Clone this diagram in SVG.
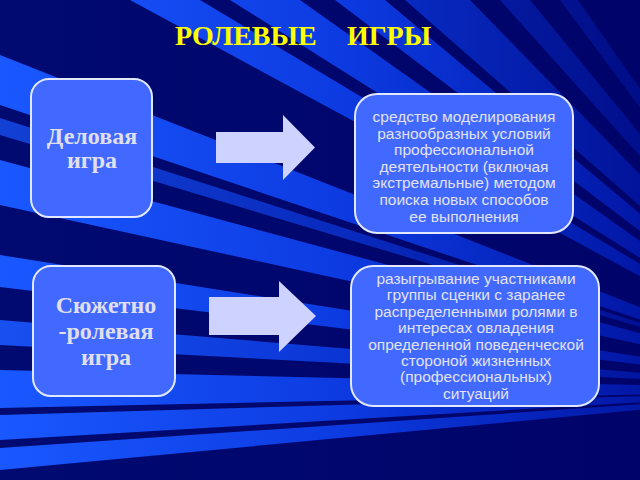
<svg xmlns="http://www.w3.org/2000/svg" width="640" height="480" viewBox="0 0 640 480">
<defs>
<linearGradient id="rayg" gradientUnits="userSpaceOnUse" x1="0" y1="0" x2="700" y2="0">
<stop offset="0" stop-color="#1A58FF"/>
<stop offset="0.5" stop-color="#0C3AE0"/>
<stop offset="1" stop-color="#00109A"/>
</linearGradient>
<linearGradient id="bgg" gradientUnits="userSpaceOnUse" x1="0" y1="0" x2="640" y2="0">
<stop offset="0" stop-color="#000A70"/>
<stop offset="1" stop-color="#00036A"/>
</linearGradient>
</defs>
<style>
.box{fill:#4169FF;stroke:#E2E8FF;stroke-width:2}
.arrow{fill:#CDD2FF}
.title{font-family:"Liberation Serif","Times New Roman",serif;font-weight:bold;font-size:28px;fill:#FFFF00}
.lbl{font-family:"Liberation Serif","Times New Roman",serif;font-weight:bold;font-size:24px;fill:#E0E0EC;text-anchor:middle}
.desc{font-family:"Liberation Sans",Arial,sans-serif;font-size:15.5px;fill:#E2E2EE;text-anchor:middle}
</style>
<g id="background">
<rect x="0" y="0" width="640" height="480" fill="url(#bgg)"/>
<g fill="url(#rayg)">
<polygon points="850,390 130,0 200,0"/>
<polygon points="850,390 230,0 300,0"/>
<polygon points="850,390 335,0 385,0"/>
<polygon points="850,390 405,0 470,0" opacity="0.8"/>
<polygon points="850,390 500,0 530,0" opacity="0.6"/>
<polygon points="850,390 560,0 578,0" opacity="0.5"/>
<polygon points="850,390 0,55 0,105"/>
<polygon points="850,390 0,118 0,135" opacity="0.7"/>
<polygon points="850,390 0,160 0,205"/>
<polygon points="850,390 0,255 0,287"/>
<polygon points="850,390 0,320 0,345" opacity="0.9"/>
<polygon points="850,390 0,370 0,408"/>
<polygon points="850,390 0,415 0,440"/>
<polygon points="850,390 0,448 0,470"/>
</g>
</g>
<text class="title" x="175" y="45">РОЛЕВЫЕ<tspan x="347">ИГРЫ</tspan></text>
<g id="connectors">
<polygon id="arrow1" class="arrow" points="216,132 283,132 283,115 315,147.5 283,180 283,163 216,163"/>
<polygon id="arrow2" class="arrow" points="209,297 279,297 279,281 316,316 279,352 279,335 209,335"/>
</g>
<g id="node-delovaya">
<rect class="box" x="31" y="79" width="121" height="138" rx="18"/>
<text class="lbl" x="92" y="144">Деловая</text>
<text class="lbl" x="92" y="168">игра</text>
</g>
<g id="node-syuzhetno">
<rect class="box" x="33" y="266" width="142" height="130" rx="18"/>
<text class="lbl" x="106" y="313">Сюжетно</text>
<text class="lbl" x="106" y="339">-ролевая</text>
<text class="lbl" x="106" y="365">игра</text>
</g>
<g id="node-desc1">
<rect class="box" x="355" y="94" width="218" height="139" rx="22"/>
<text class="desc" x="464" y="122">средство моделирования</text>
<text class="desc" x="464" y="138.6">разнообразных условий</text>
<text class="desc" x="464" y="155.2">профессиональной</text>
<text class="desc" x="464" y="171.8">деятельности (включая</text>
<text class="desc" x="464" y="188.4">экстремальные) методом</text>
<text class="desc" x="464" y="205">поиска новых способов</text>
<text class="desc" x="464" y="221.6">ее выполнения</text>
</g>
<g id="node-desc2">
<rect class="box" x="351" y="266" width="248" height="140" rx="22"/>
<text class="desc" x="476" y="284">разыгрывание участниками</text>
<text class="desc" x="476" y="300.4">группы сценки с заранее</text>
<text class="desc" x="476" y="316.8">распределенными ролями в</text>
<text class="desc" x="476" y="333.2">интересах овладения</text>
<text class="desc" x="476" y="349.6">определенной поведенческой</text>
<text class="desc" x="476" y="366">стороной жизненных</text>
<text class="desc" x="476" y="382.4">(профессиональных)</text>
<text class="desc" x="476" y="398.8">ситуаций</text>
</g>
</svg>
